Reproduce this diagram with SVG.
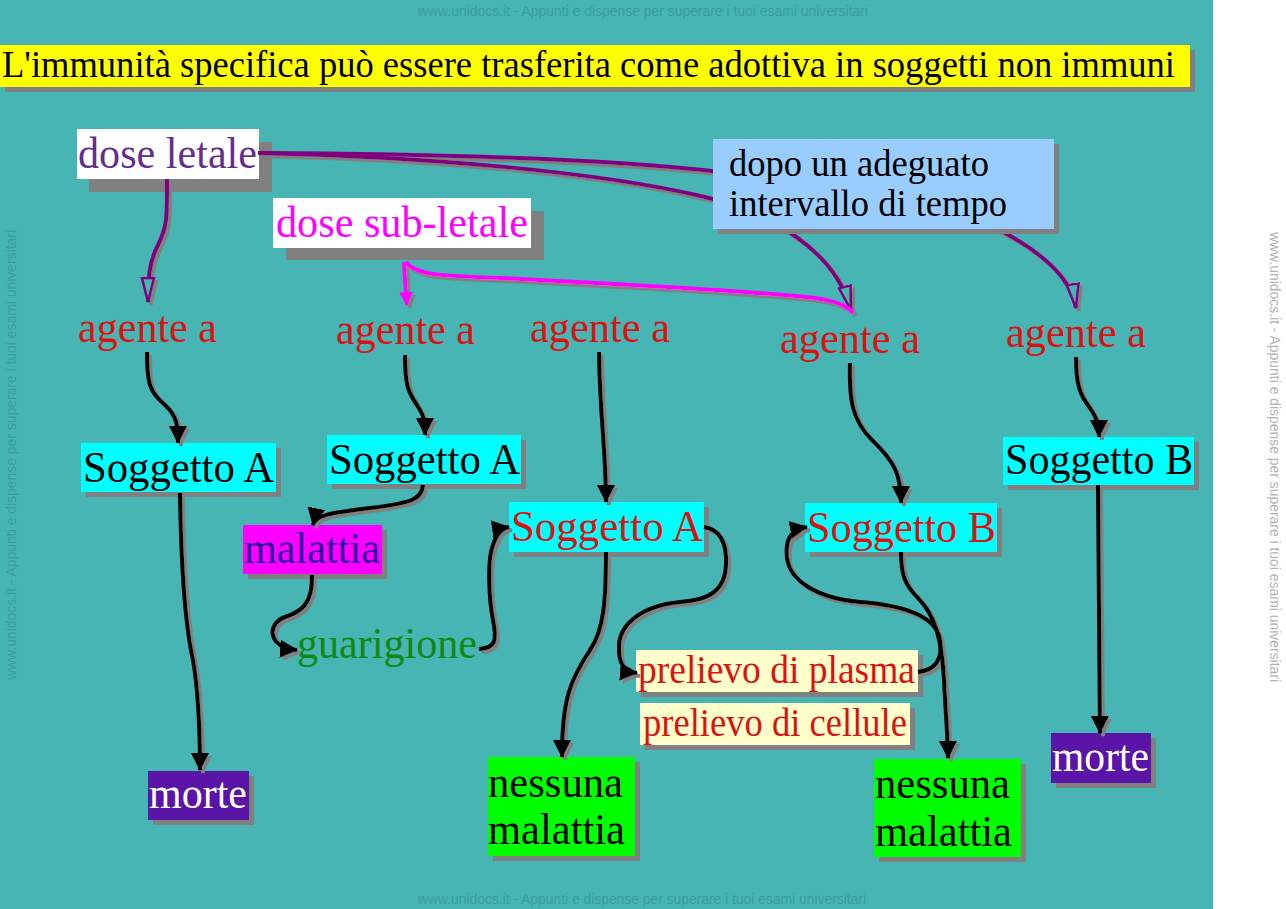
<svg xmlns="http://www.w3.org/2000/svg" width="1286" height="909" viewBox="0 0 1286 909">
<style>
text{font-family:"Liberation Serif","Times New Roman",serif}
.lb{font-size:45px}
.sh{fill:#808080}
.red{fill:#dd1111}
.cy{fill:#00ffff}
.wm{font-family:"Liberation Sans",Arial,sans-serif;font-size:14px;fill:#3a9ca2}
.wmw{fill:#b4b4b4}
.conn path{fill:none;stroke-width:4;stroke-linecap:butt;stroke-linejoin:round}
.k{stroke:#000;marker-end:url(#ak)}
.pu{stroke:#800080;marker-end:url(#ap)}
.mg{stroke:#ff00ff}
.mga{marker-end:url(#am)}
</style>
<defs>
<marker id="ak" markerUnits="userSpaceOnUse" markerWidth="20" markerHeight="20" viewBox="0 0 20 20" refX="17" refY="10" orient="auto"><path d="M0,1 L18,10 L0,19 z" fill="#000"/></marker>
<marker id="ap" markerUnits="userSpaceOnUse" markerWidth="28" markerHeight="16" viewBox="0 0 28 16" refX="25" refY="8" orient="auto"><path d="M1,2 L25,8 L1,14 z" fill="#46b5b4" stroke="#800080" stroke-width="2.5"/></marker>
<marker id="am" markerUnits="userSpaceOnUse" markerWidth="16" markerHeight="16" viewBox="0 0 16 16" refX="13" refY="8" orient="auto"><path d="M0,1 L14,8 L0,15 z" fill="#ff00ff"/></marker>
<filter id="dsh" filterUnits="userSpaceOnUse" x="0" y="0" width="1286" height="909"><feFlood flood-color="#808080"/><feComposite in2="SourceAlpha" operator="in"/><feOffset dx="3" dy="3" result="s"/><feMerge><feMergeNode in="s"/><feMergeNode in="SourceGraphic"/></feMerge></filter>
</defs>
<rect x="0" y="0" width="1286" height="909" fill="#fff"/>
<rect x="0" y="0" width="1213" height="909" fill="#46b5b4"/>
<g id="watermarks">
<text class="wm" x="418" y="16" textLength="450" lengthAdjust="spacingAndGlyphs">www.unidocs.it - Appunti e dispense per superare i tuoi esami universitari</text>
<text class="wm" x="418" y="904" textLength="448" lengthAdjust="spacingAndGlyphs">www.unidocs.it - Appunti e dispense per superare i tuoi esami universitari</text>
<text class="wm wmw" transform="translate(1270,232) rotate(90)" textLength="450" lengthAdjust="spacingAndGlyphs">www.unidocs.it - Appunti e dispense per superare i tuoi esami universitari</text>
<text class="wm" transform="translate(16,680) rotate(-90)" textLength="450" lengthAdjust="spacingAndGlyphs">www.unidocs.it - Appunti e dispense per superare i tuoi esami universitari</text>
</g>
<g id="title">
<rect class="sh" x="5" y="50" width="1190" height="42"/>
<rect x="0" y="45" width="1190" height="42" fill="#ffff00"/>
<text x="2" y="77" font-size="37" fill="#000" textLength="1173" lengthAdjust="spacingAndGlyphs">L'immunità specifica può essere trasferita come adottiva in soggetti non immuni</text>
</g>
<g id="dose-letale">
<rect class="sh" x="89" y="142" width="183" height="50"/>
<rect x="77" y="129" width="182" height="50" fill="#fff"/>
<text class="lb" x="78" y="168" fill="#662d91" textLength="179" lengthAdjust="spacingAndGlyphs">dose letale</text>
</g>
<g id="dose-subletale">
<rect class="sh" x="286" y="211" width="258" height="49"/>
<rect x="273" y="198" width="258" height="50" fill="#fff"/>
<text class="lb" x="276" y="237" fill="#ff00ff" textLength="252" lengthAdjust="spacingAndGlyphs">dose sub-letale</text>
</g>
<g id="agente1"><text class="lb red" x="78" y="342" textLength="139" lengthAdjust="spacingAndGlyphs">agente a</text></g>
<g id="agente2"><text class="lb red" x="336" y="344" textLength="139" lengthAdjust="spacingAndGlyphs">agente a</text></g>
<g id="agente3"><text class="lb red" x="530" y="342" textLength="140" lengthAdjust="spacingAndGlyphs">agente a</text></g>
<g id="agente4"><text class="lb red" x="780" y="353" textLength="140" lengthAdjust="spacingAndGlyphs">agente a</text></g>
<g id="agente5"><text class="lb red" x="1006" y="347" textLength="140" lengthAdjust="spacingAndGlyphs">agente a</text></g>
<g id="soggettoA1">
<rect class="sh" x="86" y="448" width="195" height="49"/>
<rect class="cy" x="81" y="443" width="195" height="49"/>
<text class="lb" x="83" y="482" fill="#000" textLength="191" lengthAdjust="spacingAndGlyphs">Soggetto A</text>
</g>
<g id="soggettoA2">
<rect class="sh" x="332" y="440" width="194" height="49"/>
<rect class="cy" x="327" y="435" width="194" height="49"/>
<text class="lb" x="329" y="474" fill="#000" textLength="191" lengthAdjust="spacingAndGlyphs">Soggetto A</text>
</g>
<g id="soggettoA3">
<rect class="sh" x="514" y="507" width="195" height="50"/>
<rect class="cy" x="509" y="502" width="195" height="50"/>
<text class="lb red" x="511" y="541" textLength="192" lengthAdjust="spacingAndGlyphs">Soggetto A</text>
</g>
<g id="soggettoB1">
<rect class="sh" x="810" y="508" width="192" height="49"/>
<rect class="cy" x="805" y="503" width="192" height="49"/>
<text class="lb red" x="807" y="542" textLength="189" lengthAdjust="spacingAndGlyphs">Soggetto B</text>
</g>
<g id="soggettoB2">
<rect class="sh" x="1008" y="442" width="191" height="48"/>
<rect class="cy" x="1003" y="437" width="191" height="48"/>
<text class="lb" x="1005" y="474" fill="#000" textLength="188" lengthAdjust="spacingAndGlyphs">Soggetto B</text>
</g>
<g id="malattia">
<rect class="sh" x="248" y="530" width="139" height="49"/>
<rect x="243" y="525" width="139" height="49" fill="#ff00ff"/>
<text class="lb" x="244" y="563" fill="#2b0aa0" textLength="136" lengthAdjust="spacingAndGlyphs">malattia</text>
</g>
<g id="guarigione"><text class="lb" x="297" y="658" fill="#118811" textLength="180" lengthAdjust="spacingAndGlyphs">guarigione</text></g>
<g id="prelievo-plasma">
<rect class="sh" x="641" y="655" width="282" height="42"/>
<rect x="636" y="650" width="282" height="42" fill="#ffffcc"/>
<text x="638" y="683" font-size="39" class="red" textLength="277" lengthAdjust="spacingAndGlyphs">prelievo di plasma</text>
</g>
<g id="prelievo-cellule">
<rect class="sh" x="645" y="708" width="270" height="42"/>
<rect x="640" y="703" width="270" height="42" fill="#ffffcc"/>
<text x="643" y="736" font-size="39" class="red" textLength="264" lengthAdjust="spacingAndGlyphs">prelievo di cellule</text>
</g>
<g id="morte1">
<rect class="sh" x="153" y="776" width="101" height="49"/>
<rect x="148" y="771" width="101" height="49" fill="#5a14a8"/>
<text class="lb" x="149" y="808" fill="#fff" textLength="98" lengthAdjust="spacingAndGlyphs">morte</text>
</g>
<g id="morte2">
<rect class="sh" x="1056" y="738" width="100" height="50"/>
<rect x="1051" y="733" width="100" height="50" fill="#5a14a8"/>
<text class="lb" x="1052" y="771" fill="#fff" textLength="97" lengthAdjust="spacingAndGlyphs">morte</text>
</g>
<g id="nessuna1">
<rect class="sh" x="493" y="762" width="147" height="99"/>
<rect x="488" y="757" width="147" height="99" fill="#00ff00"/>
<text class="lb" x="488" y="797" fill="#000" textLength="135" lengthAdjust="spacingAndGlyphs">nessuna</text>
<text class="lb" x="488" y="844" fill="#000" textLength="137" lengthAdjust="spacingAndGlyphs">malattia</text>
</g>
<g id="nessuna2">
<rect class="sh" x="879" y="764" width="147" height="98"/>
<rect x="874" y="759" width="147" height="98" fill="#00ff00"/>
<text class="lb" x="875" y="798" fill="#000" textLength="135" lengthAdjust="spacingAndGlyphs">nessuna</text>
<text class="lb" x="875" y="846" fill="#000" textLength="137" lengthAdjust="spacingAndGlyphs">malattia</text>
</g>
<g id="connectors" class="conn" filter="url(#dsh)">
<path class="pu" d="M167,179 C167,215 168,225 158,245 C149,262 148,280 148,302"/>
<path class="pu" d="M258,153 C430,157 600,172 705,197 C770,213 835,250 851,310"/>
<path class="pu" d="M258,153 C450,154 620,160 720,172 C850,187 950,205 1005,233 C1045,255 1072,280 1076,308"/>
<path class="mg mga" d="M404,262 C405,280 406,292 407,305"/>
<path class="mg" d="M406,262 C415,275 440,276 500,278 C600,283 760,292 815,298 C835,301 848,306 853,313"/>
<path class="k" d="M147,352 C147,385 150,392 165,405 C177,416 178,425 178,443"/>
<path class="k" d="M405,355 C405,385 408,392 417,405 C424,416 425,420 425,435"/>
<path class="k" d="M599,352 C600,420 606,450 606,502"/>
<path class="k" d="M850,363 C849,400 852,420 872,440 C895,462 901,475 901,503"/>
<path class="k" d="M1076,357 C1076,385 1080,395 1090,408 C1098,420 1099,425 1099,437"/>
<path class="k" d="M180,493 C181,560 184,620 193,660 C198,690 200,720 200,770"/>
<path class="k" d="M423,485 C422,500 410,503 370,508 C330,513 315,515 313,525"/>
<path class="k" d="M312,575 C313,605 300,612 285,617 C266,624 268,648 297,650"/>
<path class="k" d="M479,649 C496,648 497,640 493,620 C489,600 487,560 493,545 C497,533 502,528 509,527"/>
<path class="k" d="M606,552 C606,600 604,630 590,650 C570,680 562,700 562,757"/>
<path class="k" d="M704,527 C722,530 727,545 726,565 C725,590 710,600 680,602 C640,606 620,625 619,645 C618,665 625,672 637,673"/>
<path class="k" d="M918,672 C935,670 943,660 940,640 C936,615 900,605 860,602 C815,598 790,580 787,558 C785,540 790,530 807,527"/>
<path class="k" d="M901,552 C901,575 905,585 918,598 C935,615 942,640 944,680 C946,720 948,740 948,758"/>
<path class="k" d="M1098,485 L1100,733"/>
</g>
<g id="dopo-intervallo">
<rect class="sh" x="718" y="144" width="341" height="90"/>
<rect x="713" y="139" width="341" height="90" fill="#99ccff"/>
<text x="729" y="176" font-size="37" fill="#000" textLength="260" lengthAdjust="spacingAndGlyphs">dopo un adeguato</text>
<text x="729" y="216" font-size="37" fill="#000" textLength="278" lengthAdjust="spacingAndGlyphs">intervallo di tempo</text>
</g>
</svg>
